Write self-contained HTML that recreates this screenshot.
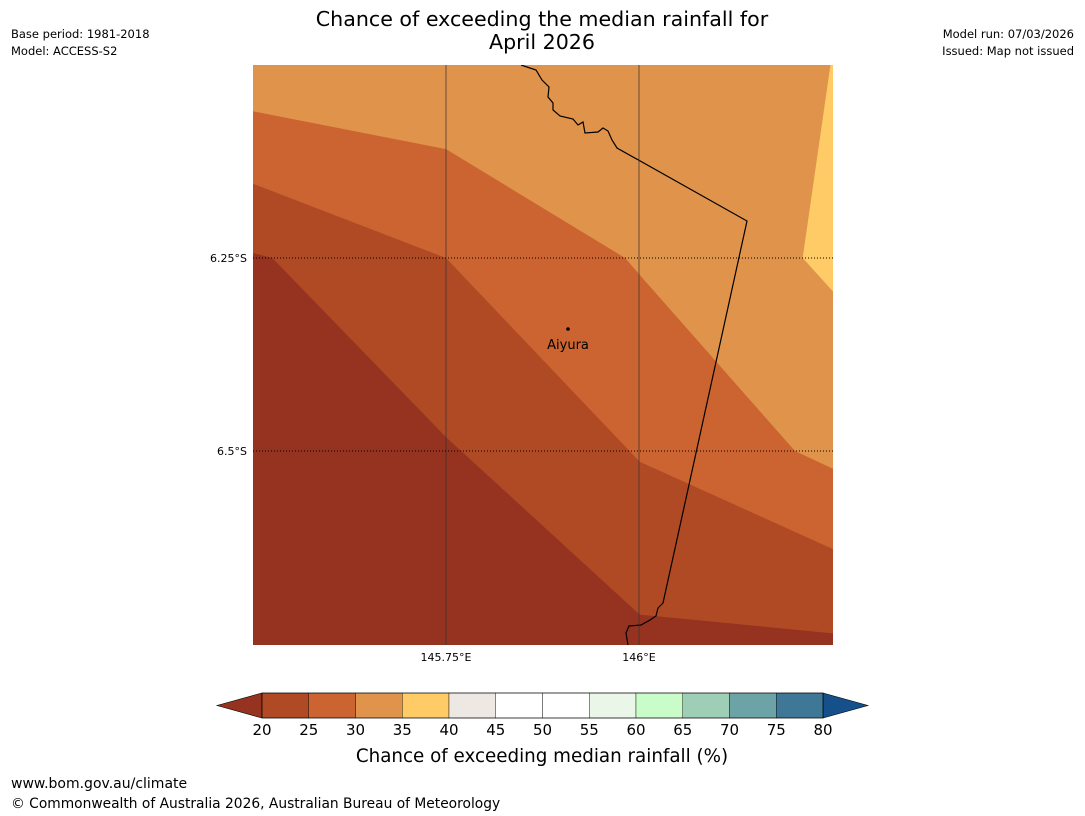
<!DOCTYPE html>
<html><head><meta charset="utf-8"><style>
body{margin:0;background:#fff;width:1085px;height:816px;overflow:hidden;font-family:"Liberation Sans","DejaVu Sans",sans-serif}
svg{position:absolute;left:0;top:0}
</style></head><body>
<svg width="1085" height="816" font-family="DejaVu Sans, Liberation Sans, sans-serif">
<text x="542" y="26" font-size="20.6" text-anchor="middle">Chance of exceeding the median rainfall for</text>
<text x="542" y="49" font-size="20.6" text-anchor="middle">April 2026</text>
<text x="11" y="38" font-size="11.5">Base period: 1981-2018</text>
<text x="11" y="55" font-size="11.5">Model: ACCESS-S2</text>
<text x="1074" y="38" font-size="11.5" text-anchor="end">Model run: 07/03/2026</text>
<text x="1074" y="55" font-size="11.5" text-anchor="end">Issued: Map not issued</text>
<g id="map"></g>
<g id="cbar"></g>
<text x="542" y="762" font-size="18.3" text-anchor="middle">Chance of exceeding median rainfall (%)</text>
<text x="11" y="788" font-size="14">www.bom.gov.au/climate</text>
<text x="11" y="808" font-size="13.8">© Commonwealth of Australia 2026, Australian Bureau of Meteorology</text>
</svg>
<script>
const NS='http://www.w3.org/2000/svg';
const lonTicks=[145.75,146.0];
const lonLabels=['145.75°E','146°E'];
const latTicks=[-6.25,-6.5];
const latLabels=['6.25°S','6.5°S'];
const levels=[20,25,30,35,40,45,50,55,60,65,70,75,80];
const levelColors=['#b04a24','#cb6431','#e0934a','#fecb66','#ede8e4','#ffffff','#ffffff','#eaf6e8','#c9fcc9','#9ecfb6','#6ba3a6','#3f7897'];
const underColor='#963320', overColor='#15508a';
const bands=[
 {c:'#e0934a',pts:[[145.49,-5.99],[146.26,-5.99],[146.26,-6.76],[145.49,-6.76]]},
 {c:'#cb6431',pts:[[145.49,-6.058],[145.75,-6.109],[145.982,-6.25],[146.001,-6.272],[146.202,-6.5],[146.26,-6.527],[146.26,-6.76],[145.49,-6.76]]},
 {c:'#b04a24',pts:[[145.49,-6.150],[145.75,-6.25],[146.001,-6.514],[146.26,-6.631],[146.26,-6.76],[145.49,-6.76]]},
 {c:'#963320',pts:[[145.49,-6.241],[145.525,-6.25],[145.75,-6.482],[146.001,-6.712],[146.26,-6.737],[146.26,-6.76],[145.49,-6.76]]},
 {c:'#fecb66',pts:[[146.26,-6.0],[146.248,-6.0],[146.212,-6.25],[146.26,-6.303]]}
];
const border=[[521,65],[536,70],[542,80],[549,87],[548,97],[553,103],[553,110],[560,116],[573,119],[578,125],[583,122],[585,133],[598,132],[603,128],[608,131],[612,140],[617,148],[747,221],[663,603],[658,608],[656,616],[650,620],[641,625],[629,626],[626,633],[628,645]];
const X0=253,Y0=65,W=580,H=580;
function px(lon){return 446+(lon-145.75)*772;}
function py(lat){return 258+(-6.25-lat)*772;}
function mk(t,a,p){const e=document.createElementNS(NS,t);for(const k in a)e.setAttribute(k,a[k]);p.appendChild(e);return e;}
const map=document.getElementById('map');
const defs=mk('defs',{},map);const cp=mk('clipPath',{id:'mc'},defs);mk('rect',{x:X0,y:Y0,width:W,height:H},cp);
const g=mk('g',{'clip-path':'url(#mc)'},map);
bands.forEach((b,i)=>{const p=mk('polygon',{points:b.pts.map(q=>px(q[0])+','+py(q[1])).join(' '),fill:b.c},g);

});
const bl=mk('polyline',{points:border.map(q=>q.join(',')).join(' '),fill:'none',stroke:'#000','stroke-width':1.2},g);


lonTicks.forEach((v,i)=>{const l=mk('line',{x1:px(v),x2:px(v),y1:Y0,y2:Y0+H,stroke:'#333','stroke-width':0.9,'stroke-opacity':0.8},g);


const t=mk('text',{x:px(v),y:661,'font-size':11,'text-anchor':'middle'},map);t.textContent=lonLabels[i];

});
latTicks.forEach((v,i)=>{const l=mk('line',{x1:X0,x2:X0+W,y1:py(v),y2:py(v),stroke:'#000','stroke-width':1,'stroke-dasharray':'1,2'},g);


const t=mk('text',{x:247,y:py(v)+4,'font-size':11,'text-anchor':'end'},map);t.textContent=latLabels[i];

});
const dot=mk('circle',{cx:568,cy:329,r:1.8,fill:'#000'},map);


const lab=mk('text',{x:568,y:349,'font-size':13,'text-anchor':'middle'},map);lab.textContent='Aiyura';


const cb=document.getElementById('cbar');
const cx0=262,cx1=823,cy=693,ch=25,sw=(cx1-cx0)/levelColors.length;
const u=mk('polygon',{points:`${cx0},${cy} ${cx0},${cy+ch} 217,${cy+ch/2}`,fill:underColor,stroke:'#000','stroke-width':0.6},cb);


const o=mk('polygon',{points:`${cx1},${cy} ${cx1},${cy+ch} 868,${cy+ch/2}`,fill:overColor,stroke:'#000','stroke-width':0.6},cb);


levelColors.forEach((c,i)=>{const r=mk('rect',{x:cx0+i*sw,y:cy,width:sw,height:ch,fill:c,stroke:'#000','stroke-width':0.4},cb);

});
mk('rect',{x:cx0,y:cy,width:cx1-cx0,height:ch,fill:'none',stroke:'#000','stroke-width':0.6},cb);
levels.forEach((v,i)=>{const t=mk('text',{x:cx0+i*sw,y:735,'font-size':15,'text-anchor':'middle'},cb);t.textContent=v;

});
</script>
</body></html>
